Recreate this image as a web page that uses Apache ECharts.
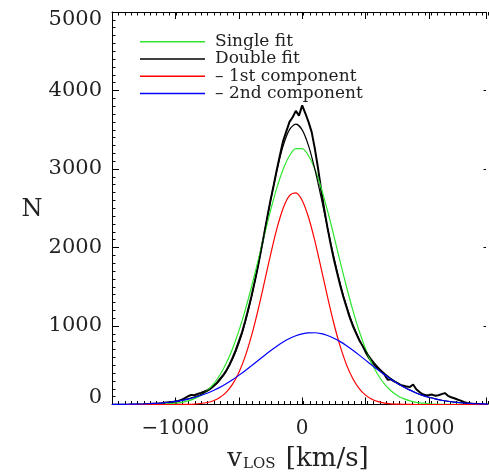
<!DOCTYPE html>
<html>
<head>
<meta charset="utf-8">
<script src="https://cdn.jsdelivr.net/npm/echarts@6/dist/echarts.min.js"></script>
<style>html,body{margin:0;padding:0;background:#fff}#c{width:489px;height:474px}</style>
</head>
<body>
<div id="c"></div>
<script>
// ---- data ----
const fitStart = -1500, fitStep = 50;
const singleFit = [0,0,0,0,0,0,
  1.5,2.9,5.3,9.5,16.6,28,46.5,74.5,116,176,260,373,521,707,934,1199,1497,1818,2149,2468,2759,2998,3169,3259,
  3259,3169,2998,2759,2468,2149,1818,1497,1199,934,707,521,373,260,176,116,74.5,46.5,28,16.6,9.5,5.3,2.9,1.5,0.8,0.4,
  0,0,0,0,0];
const comp1 = [0,0,0,0,0,0,0,0,0,0,
  0.5,1.2,2.6,5.9,12.5,25,48,89,155,257,406,610,874,1190,1543,1904,2237,2501,2662,2696,
  2599,2385,2084,1732,1371,1032,740,505,328,203,119,67,36,18,8.7,4,1.8,0.7,0.3,
  0,0,0,0,0,0,0,0,0,0,0,0];
const comp2 = [1.1,1.7,2.5,3.7,5.4,7.8,11,15.5,21,29,40,52.5,69,89,114,143,178,218,264,315,
  371,430,493,558,622,684,742,795,840,875,900,913,914,902,879,845,801,749,691,629,
  565,501,438,378,322,270,223,183,147,117,92,71,54,41,30,22,16,11.5,8,5.6,4];
const doubleFit = [1.1,1.7,2.5,3.7,5.4,7.8,11,15.5,21,29,40.5,53.7,71.6,94.9,126.5,168,226,307,419,572,
  777,1040,1367,1748,2165,2588,2979,3296,3502,3571,3499,3298,2998,2634,2250,1877,1541,1254,1019,832,
  684,568,474,396,331,274,225,184,147,117,92,71,54,41,30,22,16,11.5,8,5.6,4];
const histStart = -1100, histBin = 25;
const histCounts = [20,24,27,33,38,45,62,80,105,122,118,135,148,162,180,205,238,270,322,370,
  428,505,590,690,800,915,1060,1215,1380,1560,1750,1960,2170,2390,2600,2790,2990,3180,3360,3480,
  3600,3660,3740,3680,3810,3710,3600,3470,3260,3010,2730,2480,2250,2040,1850,1680,1520,1370,1240,1110,
  1000,910,820,750,670,600,540,495,460,420,380,315,320,295,275,250,240,228,222,255,
  195,160,130,118,120,126,112,118,132,145,110,92,80,64,50,32,20,12,8,5,3];
const xTickLabels = {'-1000':'\u22121000','0':'0','1000':'1000'};
const yTickLabels = [0,1000,2000,3000,4000,5000];
const legendNames = ['Single fit','Double fit','\u2013 1st component','\u2013 2nd component'];

const pairs = (start, step, arr) => arr.map((v, i) => [start + i * step, v]);

const FONT = 'DejaVu Serif';
const INK = '#222';
const X_MIN = -1500, X_MAX = 1450;
const GRID = {left: 112, top: 12, width: 376.6, height: 392.5};

function majorX(pos, showLabel) {
  return {
    gridIndex: 0, type: 'value', min: X_MIN, max: X_MAX, interval: 500, position: pos,
    axisLine: {show: true, onZero: false, lineStyle: {color: '#000', width: 1}},
    axisTick: {show: true, inside: true, length: 7, lineStyle: {color: '#000', width: 1}},
    minorTick: {show: false},
    splitLine: {show: false}, minorSplitLine: {show: false},
    axisLabel: {show: showLabel, margin: 14, fontSize: 20, fontFamily: FONT, color: INK,
      formatter: v => (xTickLabels[String(v)] !== undefined ? xTickLabels[String(v)] : '')}
  };
}
function minorX(pos) {
  return {
    gridIndex: 1, type: 'value', min: X_MIN, max: X_MAX, interval: 50, position: pos,
    axisLine: {show: false, onZero: false},
    axisTick: {show: true, inside: true, length: 3.5, lineStyle: {color: '#000', width: 1}},
    axisLabel: {show: false}, splitLine: {show: false}
  };
}
const yLeft = {
  gridIndex: 0, type: 'value', min: 0, max: 5000, interval: 1000, position: 'left',
  axisLine: {show: true, onZero: false, lineStyle: {color: '#000', width: 1}},
  axisTick: {show: true, inside: true, length: 7, lineStyle: {color: '#000', width: 1}},
  minorTick: {show: true, splitNumber: 10, length: 3.5, lineStyle: {color: '#000', width: 1}},
  splitLine: {show: false}, minorSplitLine: {show: false},
  axisLabel: {show: true, margin: 10, fontSize: 21, fontFamily: FONT, color: INK,
    formatter: v => {
      if (yTickLabels.indexOf(v) < 0) return '';
      if (v === 5000) return '{t|' + v + '}';
      if (v === 0) return '{b|' + v + '}';
      return String(v);
    },
    rich: {
      t: {fontSize: 21, fontFamily: FONT, color: INK, padding: [16, 0, 0, 0]},
      b: {fontSize: 21, fontFamily: FONT, color: INK, padding: [0, 0, 14, 0]}
    }}
};
const yRight = {
  gridIndex: 0, type: 'value', min: 0, max: 5000, interval: 1000, position: 'right',
  axisLine: {show: false, onZero: false},
  axisTick: {show: true, inside: true, length: 2.5, lineStyle: {color: '#000', width: 1}},
  minorTick: {show: false}, splitLine: {show: false}, axisLabel: {show: false}
};
const yHidden = {gridIndex: 1, type: 'value', min: 0, max: 5000, show: false};

const chart = echarts.init(document.getElementById('c'), null, {renderer: 'canvas'});
const lineS = (name, data, color, width) => ({
  name, type: 'line', data, showSymbol: false, symbol: 'none', smooth: 0.3,
  lineStyle: {color, width}, itemStyle: {color}, silent: true
});
chart.setOption({
  animation: false,
  backgroundColor: '#fff',
  grid: [Object.assign({}, GRID), Object.assign({}, GRID)],
  xAxis: [majorX('bottom', true), majorX('top', false), minorX('bottom'), minorX('top')],
  yAxis: [yLeft, yRight, yHidden],
  legend: {
    data: legendNames, orient: 'vertical', left: 140, top: 33, padding: 0,
    itemGap: 0, itemWidth: 65, itemHeight: 1.5, icon: 'rect', selectedMode: false,
    textStyle: {fontSize: 17, fontFamily: FONT, color: INK, lineHeight: 17.3, padding: [0, 0, 0, 5]}
  },
  graphic: [
    {type: 'text', style: {
      text: '{a|v}{s|LOS}{a| [km/s]}', x: 298, y: 458, align: 'center', verticalAlign: 'middle',
      rich: {
        a: {fontSize: 26, fontFamily: FONT, fill: INK, lineHeight: 28, verticalAlign: 'bottom'},
        s: {fontSize: 15, fontFamily: FONT, fill: INK, lineHeight: 28, verticalAlign: 'bottom', padding: [9, 2, 0, 1]}
      }
    }},
    {type: 'text', style: {text: 'N', x: 32, y: 210, align: 'center', verticalAlign: 'middle',
      fontSize: 24, fontFamily: FONT, fill: INK}}
  ],
  series: [
    {name: 'data', type: 'line', data: pairs(histStart, histBin, histCounts),
      showSymbol: false, symbol: 'none', lineStyle: {color: '#000', width: 2}, itemStyle: {color: '#000'}, silent: true},
    lineS('Single fit', pairs(fitStart, fitStep, singleFit), '#2ee62e', 1.2),
    lineS('Double fit', pairs(fitStart, fitStep, doubleFit), '#000000', 1.2),
    lineS('\u2013 1st component', pairs(fitStart, fitStep, comp1), '#ff0000', 1.2),
    lineS('\u2013 2nd component', pairs(fitStart, fitStep, comp2), '#0000ff', 1.2)
  ]
});
</script>
</body>
</html>
